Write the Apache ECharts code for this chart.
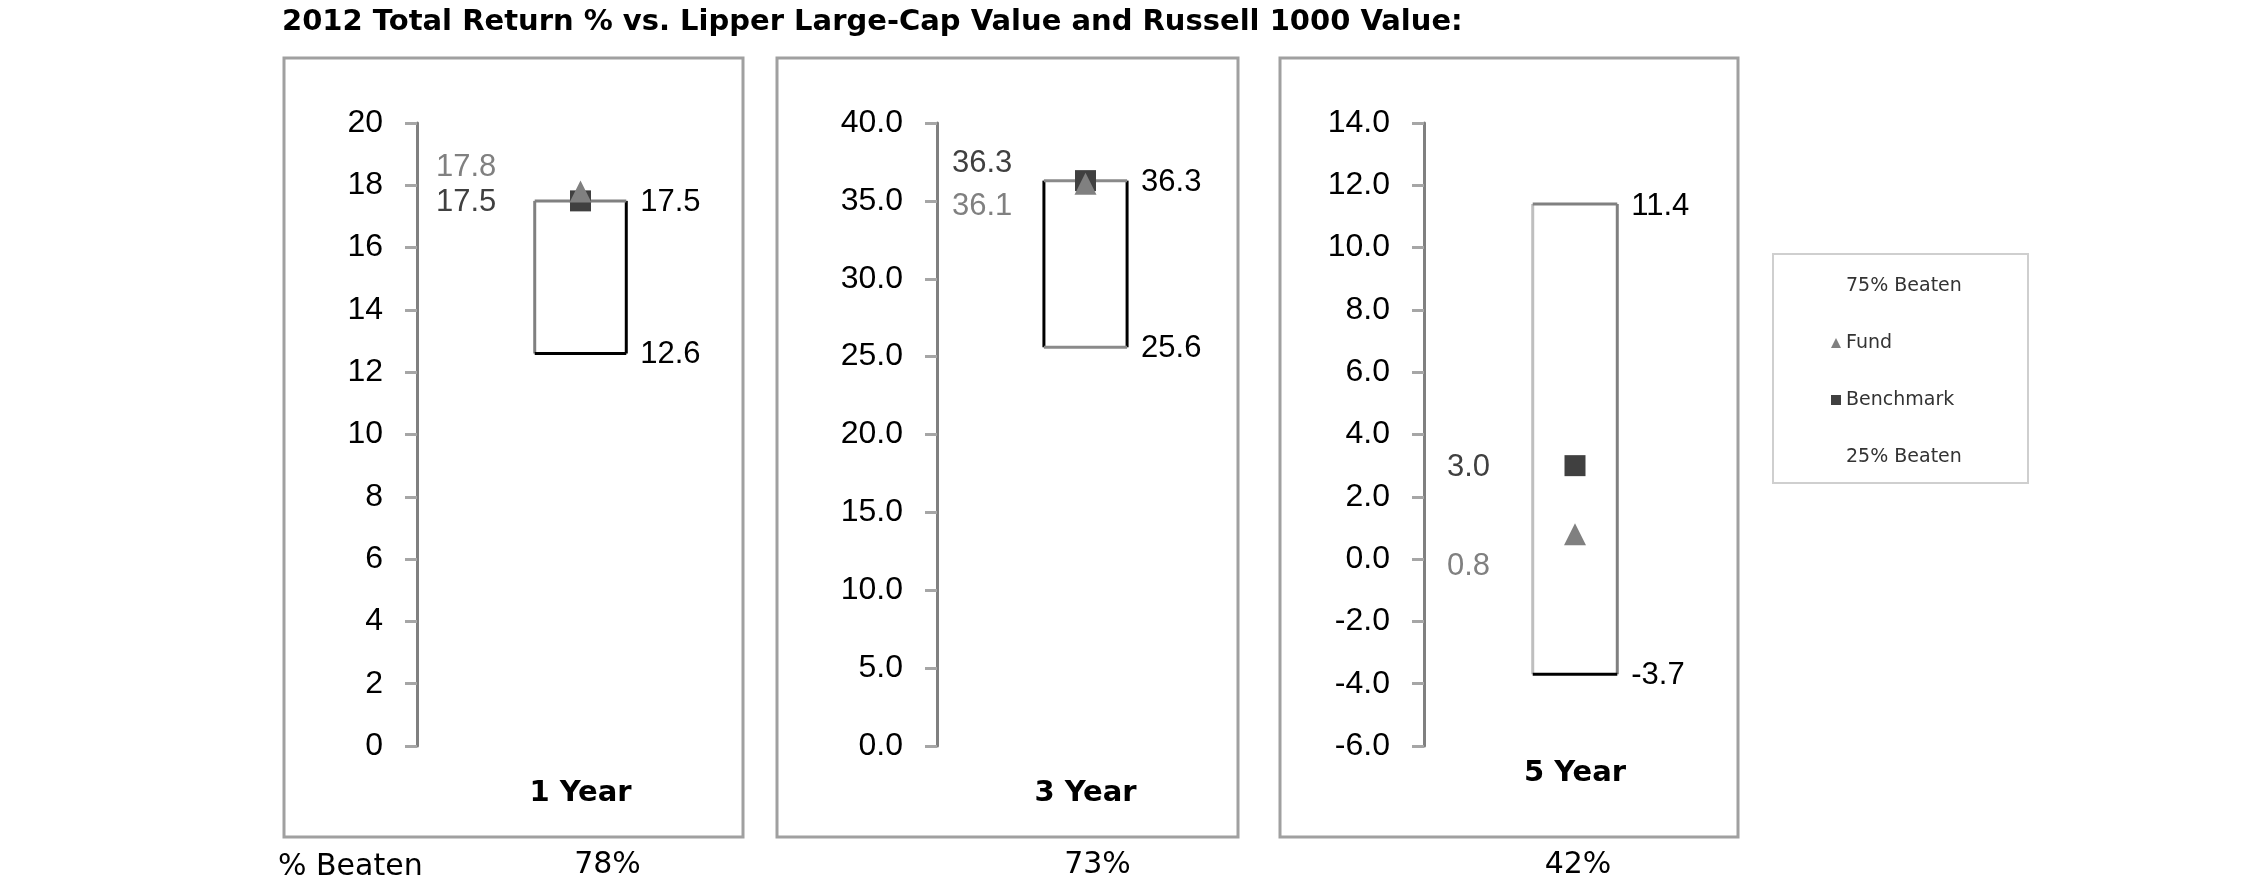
<!DOCTYPE html>
<html>
<head>
<meta charset="utf-8">
<script src="https://cdn.jsdelivr.net/npm/echarts@6/dist/echarts.min.js"></script>
<style>html,body{margin:0;padding:0;background:#fff}#c{width:2250px;height:895px}</style>
</head>
<body>
<div id="c"></div>
<script>
// ---- data ----
const categories = ['1 Year', '3 Year', '5 Year'];
const fund = [17.8, 36.1, 0.8];
const benchmark = [17.5, 36.3, 3.0];
const beaten75 = [17.5, 36.3, 11.4];
const beaten25 = [12.6, 25.6, -3.7];
const pctBeaten = ['78%', '73%', '42%'];
const yMin = [0, 0, -6];
const yMax = [20, 40, 14];
const yInterval = [2, 5, 2];
const yDecimals = [0, 1, 1];

// ---- layout / style ----
const gridLeft = [417, 937, 1424];
const gridWidth = [327, 297, 302];
const gridTop = 123, gridHeight = 623;
const catLabelMargin = [47, 47, 27];
const beatenPad = [54, 24, 6];
const leftLabelDx = [19, 15, 23];
const fundLabelDy = [-24, 23, 32];
const benchLabelDy = [2, -17, 2];
const boxEdges = [
  {top: '#808080', left: '#808080', right: '#000000', bottom: '#000000'},
  {top: '#8a8a8a', left: '#000000', right: '#000000', bottom: '#8a8a8a'},
  {top: '#808080', left: '#bfbfbf', right: '#808080', bottom: '#000000'}
];
const frames = [[284, 58, 459, 779], [777, 58, 461, 779], [1280, 58, 458, 779]];
const FUND_COLOR = '#808080', BENCH_COLOR = '#404040';
const NUM_FONT = 'Liberation Sans, Arial, sans-serif';
const TXT_FONT = 'DejaVu Sans, Verdana, sans-serif';

const grids = [], xAxes = [], yAxes = [], series = [];
for (let i = 0; i < 3; i++) {
  const d = yDecimals[i];
  grids.push({left: gridLeft[i], top: gridTop, width: gridWidth[i], height: gridHeight});
  xAxes.push({
    type: 'category', gridIndex: i, data: [categories[i]], position: 'bottom',
    axisLine: {show: false}, axisTick: {show: false}, splitLine: {show: false},
    axisLabel: {show: true, margin: catLabelMargin[i], verticalAlign: 'middle',
      fontFamily: TXT_FONT, fontWeight: 'bold', fontSize: 29, color: '#000'}
  });
  yAxes.push({
    type: 'value', gridIndex: i, min: yMin[i], max: yMax[i], interval: yInterval[i],
    splitLine: {show: false},
    axisLine: {show: true, lineStyle: {color: '#808080', width: 3}},
    axisTick: {show: true, inside: false, length: 12, lineStyle: {color: '#a6a6a6', width: 3}},
    axisLabel: {margin: 34, fontFamily: NUM_FONT, fontSize: 32, color: '#000',
      formatter: v => Number(v).toFixed(d)}
  });
}
for (let i = 0; i < 3; i++) {
  xAxes.push({
    type: 'category', gridIndex: i, data: [pctBeaten[i]], position: 'bottom',
    axisLine: {show: false}, axisTick: {show: false}, splitLine: {show: false},
    axisLabel: {show: true, margin: 119, verticalAlign: 'middle', padding: [0, 0, 0, beatenPad[i]],
      fontFamily: TXT_FONT, fontSize: 30, color: '#000'}
  });
}

for (let i = 0; i < 3; i++) {
  const edges = boxEdges[i];
  // box between 25% and 75% beaten
  series.push({
    type: 'custom', name: '75% Beaten', xAxisIndex: i, yAxisIndex: i, z: 2,
    data: [[categories[i], beaten25[i], beaten75[i]]],
    renderItem: function (params, api) {
      const lo = api.value(1), hi = api.value(2);
      const pLo = api.coord([api.value(0), lo]);
      const pHi = api.coord([api.value(0), hi]);
      const w = api.size([1, 0])[0] * 0.28;
      const l = pLo[0] - w / 2, r = pLo[0] + w / 2, t = pHi[1], b = pLo[1];
      const ln = (x1, y1, x2, y2, c) => ({type: 'line', shape: {x1, y1, x2, y2}, style: {stroke: c, lineWidth: 3}});
      return {type: 'group', children: [
        ln(l, t, l, b, edges.left),
        ln(r, t, r, b, edges.right),
        ln(l, b, r, b, edges.bottom),
        ln(l, t, r, t, edges.top),
        {type: 'text', x: r + 14, y: t + 2, style: {text: hi.toFixed(1), fill: '#000', fontSize: 31, fontFamily: NUM_FONT, verticalAlign: 'middle', align: 'left'}},
        {type: 'text', x: r + 14, y: b + 1, style: {text: lo.toFixed(1), fill: '#000', fontSize: 31, fontFamily: NUM_FONT, verticalAlign: 'middle', align: 'left'}}
      ]};
    }
  });
  // left value labels for fund / benchmark
  series.push({
    type: 'custom', name: 'labels' + i, xAxisIndex: i, yAxisIndex: i, z: 2, silent: true,
    data: [[categories[i], fund[i], benchmark[i]]],
    renderItem: function (params, api) {
      const f = api.value(1), bm = api.value(2);
      const pF = api.coord([api.value(0), f]);
      const pB = api.coord([api.value(0), bm]);
      const x = params.coordSys.x + leftLabelDx[i];
      return {type: 'group', children: [
        {type: 'text', x: x, y: pF[1] + fundLabelDy[i], style: {text: f.toFixed(1), fill: FUND_COLOR, fontSize: 31, fontFamily: NUM_FONT, verticalAlign: 'middle', align: 'left'}},
        {type: 'text', x: x, y: pB[1] + benchLabelDy[i], style: {text: bm.toFixed(1), fill: BENCH_COLOR, fontSize: 31, fontFamily: NUM_FONT, verticalAlign: 'middle', align: 'left'}}
      ]};
    }
  });
  series.push({
    type: 'scatter', name: 'Benchmark', xAxisIndex: i, yAxisIndex: i, z: 3,
    symbol: 'rect', symbolSize: 21, itemStyle: {color: BENCH_COLOR, opacity: 1},
    data: [[categories[i], benchmark[i]]]
  });
  series.push({
    type: 'scatter', name: 'Fund', xAxisIndex: i, yAxisIndex: i, z: 4,
    symbol: 'triangle', symbolSize: [22, 22], itemStyle: {color: FUND_COLOR, opacity: 1},
    data: [[categories[i], fund[i]]]
  });
}
series.push({type: 'line', name: '25% Beaten', xAxisIndex: 0, yAxisIndex: 0, data: [], itemStyle: {color: '#000'}});

const graphics = frames.map(f => ({
  type: 'rect', shape: {x: f[0], y: f[1], width: f[2], height: f[3]},
  style: {fill: 'none', stroke: '#a0a0a0', lineWidth: 3}, z: 0, silent: true
}));
graphics.push({type: 'rect', shape: {x: 1773, y: 254, width: 255, height: 229},
  style: {fill: 'none', stroke: '#cfcfcf', lineWidth: 2}, z: 0, silent: true});
graphics.push({type: 'text', x: 278, y: 867,
  style: {text: '% Beaten', fill: '#000', fontSize: 30, fontFamily: TXT_FONT, verticalAlign: 'middle', align: 'left'}});

const chart = echarts.init(document.getElementById('c'), null, {renderer: 'canvas'});
chart.setOption({
  animation: false,
  backgroundColor: '#fff',
  title: {text: '2012 Total Return % vs. Lipper Large-Cap Value and Russell 1000 Value:',
    left: 282, top: 8, padding: 0,
    textStyle: {fontFamily: TXT_FONT, fontWeight: 'bold', fontSize: 29, color: '#000'}},
  legend: {
    orient: 'vertical', left: 1831, top: 276, padding: 0,
    itemWidth: 10, itemHeight: 10, itemGap: 37,
    textStyle: {fontFamily: TXT_FONT, fontSize: 19, color: '#333', lineHeight: 20},
    selectedMode: false,
    data: [
      {name: '75% Beaten', icon: 'rect', itemStyle: {color: 'rgba(0,0,0,0)', borderWidth: 0}},
      {name: 'Fund', icon: 'triangle'},
      {name: 'Benchmark', icon: 'rect'},
      {name: '25% Beaten', icon: 'rect', itemStyle: {color: 'rgba(0,0,0,0)', borderWidth: 0}}
    ]
  },
  grid: grids, xAxis: xAxes, yAxis: yAxes, series: series, graphic: graphics
});
</script>
</body>
</html>
